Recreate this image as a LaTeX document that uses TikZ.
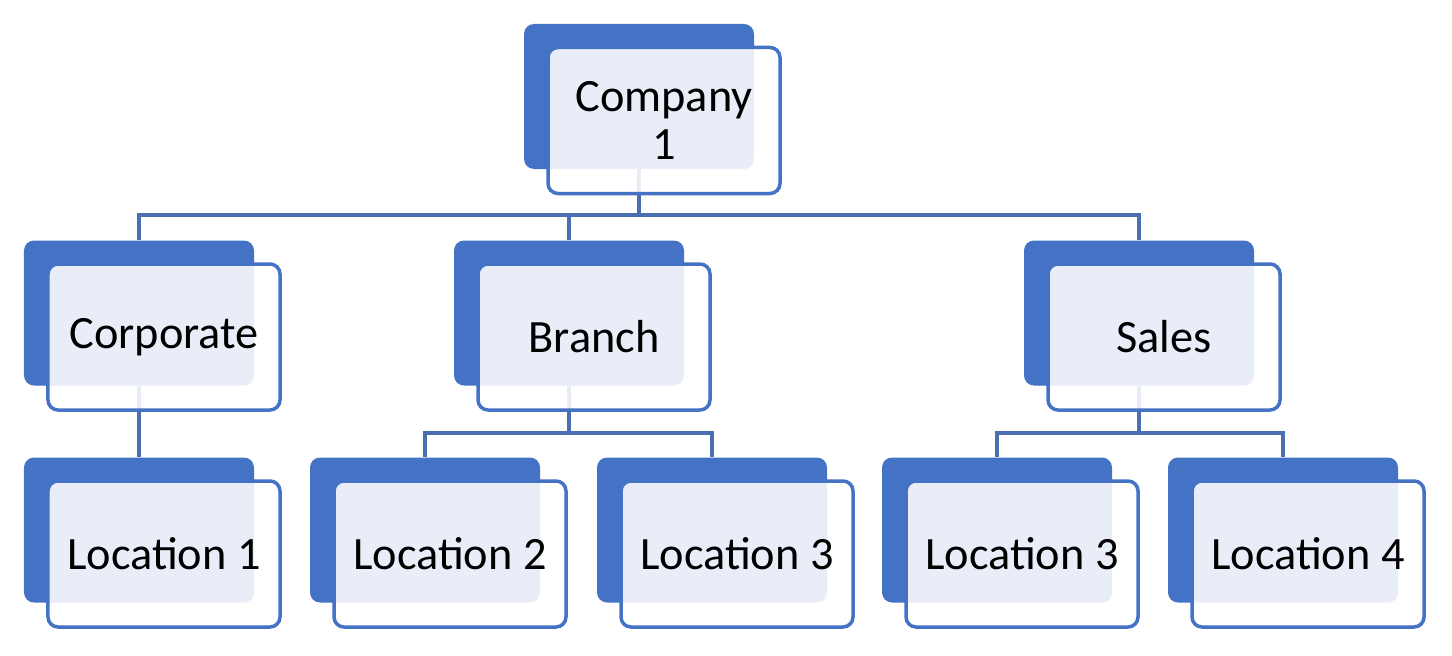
\documentclass[tikz,border=0pt]{standalone}
\usepackage{fontspec}
\setmainfont{Carlito}
\definecolor{cblue}{HTML}{4472C4}
\definecolor{lblue}{HTML}{4A6EB0}
\begin{document}
\begin{tikzpicture}[x=1bp,y=-1bp,
  back/.style={rectangle, rounded corners=10bp, fill=cblue, minimum width=230bp, minimum height=145bp, inner sep=0pt},
  front/.style={rectangle, rounded corners=10bp, draw=cblue, line width=3.5bp, fill=white, fill opacity=0.88, text opacity=1,
     minimum width=232bp, minimum height=146bp, inner sep=0pt, align=center,
     font=\fontsize{46.5}{48}\selectfont},
  link/.style={draw=lblue, line width=3.8bp}]
\useasboundingbox (0,0) rectangle (1452,656);
% back boxes
\node[back] (bcomp) at (639,96.5) {};
\node[back] (bcorp) at (139,313) {};
\node[back] (bbran) at (569,313) {};
\node[back] (bsale) at (1139,313) {};
\node[back] (bl1) at (139,530) {};
\node[back] (bl2) at (425,530) {};
\node[back] (bl3) at (712,530) {};
\node[back] (bl3b) at (997,530) {};
\node[back] (bl4) at (1283,530) {};
% connectors
\coordinate (bus1) at (639,215);
\coordinate (bus2) at (569,433);
\coordinate (bus3) at (1139,433);
\draw[link] (bcomp.south) -- (bus1);
\draw[link] (bus1) -| (bcorp.north);
\draw[link] (bus1) -| (bsale.north);
\draw[link] (bus1 -| bbran.north) -- (bbran.north);
\draw[link] (bcorp.south) -- (bl1.north);
\draw[link] (bbran.south) -- (bus2);
\draw[link] (bus2) -| (bl2.north);
\draw[link] (bus2) -| (bl3.north);
\draw[link] (bsale.south) -- (bus3);
\draw[link] (bus3) -| (bl3b.north);
\draw[link] (bus3) -| (bl4.north);
% front boxes
\node[front] (fcomp) at (664,120.5) {Company\\1};
\node[front] (fcorp) at (164,337) {Corporate};
\node[front] (fbran) at (594,337) {Branch};
\node[front] (fsale) at (1164,337) {Sales};
\node[front] (fl1) at (164,554) {Location 1};
\node[front] (fl2) at (450,554) {Location 2};
\node[front] (fl3) at (737,554) {Location 3};
\node[front] (fl3b) at (1022,554) {Location 3};
\node[front] (fl4) at (1308,554) {Location 4};
\end{tikzpicture}
\end{document}
